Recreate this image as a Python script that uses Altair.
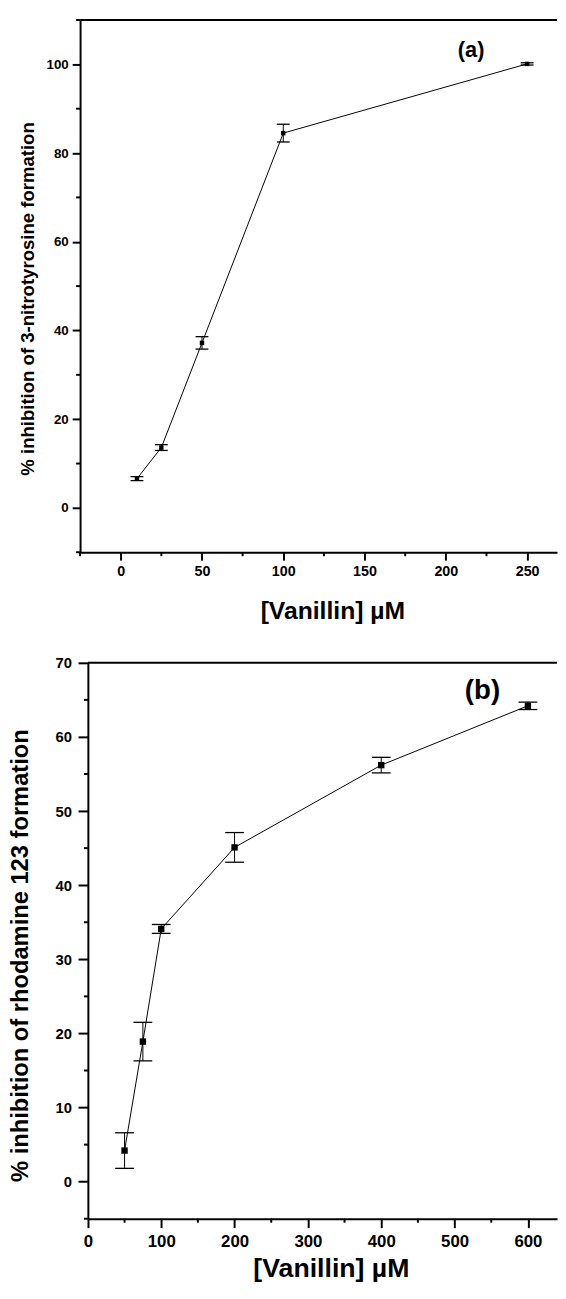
import altair as alt
import pandas as pd

# ---------------- data ----------------
# panel (a): 3-nitrotyrosine formation
conc_a = [10, 25, 50, 100, 250]
inhib_a = [6.6, 13.6, 37.2, 84.5, 100.1]
err_a = [0.45, 0.65, 1.4, 2.0, 0.25]

# panel (b): rhodamine 123 formation
conc_b = [50, 75, 100, 200, 400, 600]
inhib_b = [4.2, 18.9, 34.1, 45.1, 56.2, 64.2]
err_b = [2.4, 2.6, 0.6, 2.0, 1.05, 0.5]

# axis ticks
xticks_a = [0, 50, 100, 150, 200, 250]
xminor_a = [-25, 25, 75, 125, 175, 225]
yticks_a = [0, 20, 40, 60, 80, 100]
yminor_a = [-10, 10, 30, 50, 70, 90, 110]

xticks_b = [0, 100, 200, 300, 400, 500, 600]
xminor_b = [50, 150, 250, 350, 450, 550]
yticks_b = [0, 10, 20, 30, 40, 50, 60, 70]
yminor_b = [-5, 5, 15, 25, 35, 45, 55, 65]

xtitle = "[Vanillin] µM"
ytitle_a = "% inhibition of 3-nitrotyrosine formation"
ytitle_b = "% inhibition of rhodamine 123 formation"

FONT = "Liberation Sans"

# one tall view holding both panels; each panel has its own scales
W = 483
H_A, GAP, H_B = 539, 112, 563
H = H_A + GAP + H_B


def make_panel(conc, inhib, err, xdom, xrange, ydom, top, bottom, xt, xm, yt, ym, c):
    df = pd.DataFrame({"conc": conc, "inhib": inhib, "err": err})
    df["lo"] = df["inhib"] - df["err"]
    df["hi"] = df["inhib"] + df["err"]
    one = pd.DataFrame({"z": [0]})

    xs = alt.Scale(domain=xdom, range=xrange, nice=False, zero=False)
    ys = alt.Scale(domain=ydom, range=[bottom, top], nice=False, zero=False)
    x0 = xrange[0]

    xaxis = alt.Axis(
        values=xt, title=xtitle, grid=False, orient="bottom", offset=bottom - H,
        domainColor="black", domainWidth=2,
        tickColor="black", tickWidth=2, tickSize=c["xtick"],
        labelFont=FONT, labelFontWeight="bold", labelFontSize=c["xlab"],
        labelColor="black", labelPadding=c["xpad"], labelFlush=False, labelOverlap=False,
        titleFont=FONT, titleFontWeight="bold", titleFontSize=c["xtfs"], titleColor="black",
        titleX=c["xtx"], titleY=c["xty"], titleBaseline="alphabetic", titleAlign="center",
    )
    yaxis = alt.Axis(
        values=yt, title=c["ytitle"], grid=False, orient="left", offset=-x0,
        domainColor="black", domainWidth=2,
        tickColor="black", tickWidth=2, tickSize=c["ytick"],
        labelFont=FONT, labelFontWeight="bold", labelFontSize=c["ylab"],
        labelColor="black", labelPadding=c["ypad"], labelFlush=False, labelOverlap=False,
        titleFont=FONT, titleFontWeight="bold", titleFontSize=c["ytfs"], titleColor="black",
        titleX=c["ytx"], titleY=c["yty"], titleBaseline="alphabetic", titleAlign="center",
        titleAngle=270,
    )

    def X(f):
        return alt.X(f, scale=xs, axis=xaxis)

    def Y(f):
        return alt.Y(f, scale=ys, axis=yaxis)

    base = alt.Chart(df)
    line = base.mark_line(color="black", strokeWidth=1).encode(x=X("conc:Q"), y=Y("inhib:Q"))
    bars = base.mark_rule(color="black", strokeWidth=1).encode(
        x=X("conc:Q"), y=Y("lo:Q"), y2="hi:Q")
    cap_lo = base.mark_tick(color="black", orient="horizontal", size=c["cap"],
                            thickness=1.3, opacity=1).encode(x=X("conc:Q"), y=Y("lo:Q"))
    cap_hi = base.mark_tick(color="black", orient="horizontal", size=c["cap"],
                            thickness=1.3, opacity=1).encode(x=X("conc:Q"), y=Y("hi:Q"))
    pts = base.mark_square(color="black", size=c["msize"], opacity=1).encode(
        x=X("conc:Q"), y=Y("inhib:Q"))

    xminor = alt.Chart(pd.DataFrame({"v": xm})).mark_rule(color="black", strokeWidth=2).encode(
        x=X("v:Q"), y=alt.value(bottom), y2=alt.value(bottom + 4))
    yminor = alt.Chart(pd.DataFrame({"v": ym})).mark_rule(color="black", strokeWidth=2).encode(
        y=Y("v:Q"), x=alt.value(x0 - 4), x2=alt.value(x0))

    frame_top = alt.Chart(one).mark_rule(color="black", strokeWidth=2).encode(
        x=alt.value(x0), x2=alt.value(xrange[1]), y=alt.value(top))

    lab = alt.Chart(one).mark_text(
        font=FONT, fontWeight="bold", fontSize=c["pfs"], color="black",
        align="center", baseline="middle").encode(
        x=alt.value(c["px"]), y=alt.value(top + c["py"]), text=alt.value(c["ptext"]))

    return alt.layer(line, bars, cap_lo, cap_hi, pts, xminor, yminor, frame_top, lab)


panel_a = make_panel(
    conc_a, inhib_a, err_a, [-25, 268.4], [0, W], [-10, 110], 0, H_A,
    xticks_a, xminor_a, yticks_a, yminor_a,
    dict(xtick=8, xlab=14.5, xpad=5, xtfs=25, xtx=255.5, xty=67,
         ytitle=ytitle_a, ytick=8, ylab=13.5, ypad=4, ytfs=18.8, ytx=-47.5, yty=282,
         cap=13, msize=20, pfs=22, px=396, py=30, ptext="(a)"),
)

panel_b = make_panel(
    conc_b, inhib_b, err_b, [0, 639.7], [7.9, W], [-5, 70], H_A + GAP, H,
    xticks_b, xminor_b, yticks_b, yminor_b,
    dict(xtick=9, xlab=17, xpad=6.5, xtfs=27, xtx=254, xty=58.5,
         ytitle=ytitle_b, ytick=10, ylab=15, ypad=6.5, ytfs=24, ytx=-61, yty=H_A + GAP + 296,
         cap=19, msize=42, pfs=28, px=407.5, py=29, ptext="(b)"),
)

# invisible rule that fixes how far the figure reaches to the left
spacer = alt.Chart(pd.DataFrame({"z": [0]})).mark_rule(
    opacity=0, strokeOpacity=0, strokeWidth=1).encode(
    x=alt.value(-72), y=alt.value(0), y2=alt.value(10))

chart = alt.layer(panel_a, panel_b, spacer).resolve_scale(
    x="independent", y="independent"
).properties(
    width=W, height=H,
    padding={"left": 0, "top": 3, "right": 0, "bottom": 0},
).configure_view(stroke=None)

chart.save("out.html", embed_options={"renderer": "svg", "actions": False})
